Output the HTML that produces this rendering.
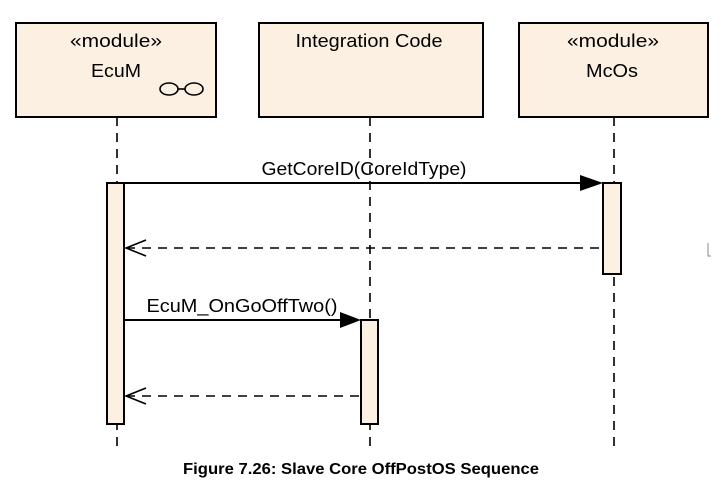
<!DOCTYPE html>
<html><head><style>body{margin:0;background:#fff}</style></head><body>
<svg width="722" height="489" viewBox="0 0 722 489" xmlns="http://www.w3.org/2000/svg" font-family="Liberation Sans, sans-serif">
<g fill="#fbf0e2" stroke="#000" stroke-width="2">
<rect x="16" y="23" width="200" height="94"/>
<rect x="259" y="23" width="224" height="94"/>
<rect x="519" y="23" width="189" height="94"/>
</g>
<g stroke="#000" stroke-width="1.6" stroke-dasharray="9,7" fill="none">
<line x1="117" y1="117" x2="117" y2="453"/>
<line x1="370" y1="117" x2="370" y2="453"/>
<line x1="614" y1="117" x2="614" y2="453"/>
</g>
<g fill="#fbf0e2" stroke="#000" stroke-width="2">
<rect x="107" y="183" width="17" height="241"/>
<rect x="603" y="183" width="18" height="91"/>
<rect x="361" y="320" width="17" height="104"/>
</g>
<g font-size="18" text-anchor="middle" fill="#000" lengthAdjust="spacingAndGlyphs">
<text x="116" y="47" textLength="92" lengthAdjust="spacingAndGlyphs">«module»</text>
<text x="116" y="77" textLength="50" lengthAdjust="spacingAndGlyphs">EcuM</text>
<text x="369" y="47" textLength="147" lengthAdjust="spacingAndGlyphs">Integration Code</text>
<text x="613" y="47" textLength="92" lengthAdjust="spacingAndGlyphs">«module»</text>
<text x="612" y="77" textLength="52" lengthAdjust="spacingAndGlyphs">McOs</text>
<text x="364" y="175" textLength="205" lengthAdjust="spacingAndGlyphs">GetCoreID(CoreIdType)</text>
<text x="242" y="312" textLength="191" lengthAdjust="spacingAndGlyphs">EcuM_OnGoOffTwo()</text>
<text x="361" y="474" font-weight="bold" font-size="16" textLength="356" lengthAdjust="spacingAndGlyphs">Figure 7.26: Slave Core OffPostOS Sequence</text>
</g>
<g fill="none" stroke="#000" stroke-width="1.6">
<ellipse cx="169" cy="89" rx="9" ry="6"/><ellipse cx="194" cy="89" rx="9" ry="6"/><line x1="178" y1="89" x2="185" y2="89"/>
</g>
<g stroke="#000" stroke-width="2" fill="none">
<line x1="124" y1="183" x2="582" y2="183"/>
<line x1="124" y1="320" x2="342" y2="320"/>
</g>
<polygon points="580,175 603,183 580,191" fill="#000"/>
<polygon points="340,312 361,320 340,328" fill="#000"/>
<g stroke="#000" stroke-width="1.6" fill="none">
<line x1="126" y1="248" x2="603" y2="248" stroke-dasharray="9,7"/>
<polyline points="146,240 126,248 146,256"/>
<line x1="126" y1="396" x2="361" y2="396" stroke-dasharray="9,7"/>
<polyline points="146,388 126,396 146,404"/>
<polyline points="708,243 708,256 711,256" stroke="#888" stroke-width="1"/>
</g>
</svg>
</body></html>
